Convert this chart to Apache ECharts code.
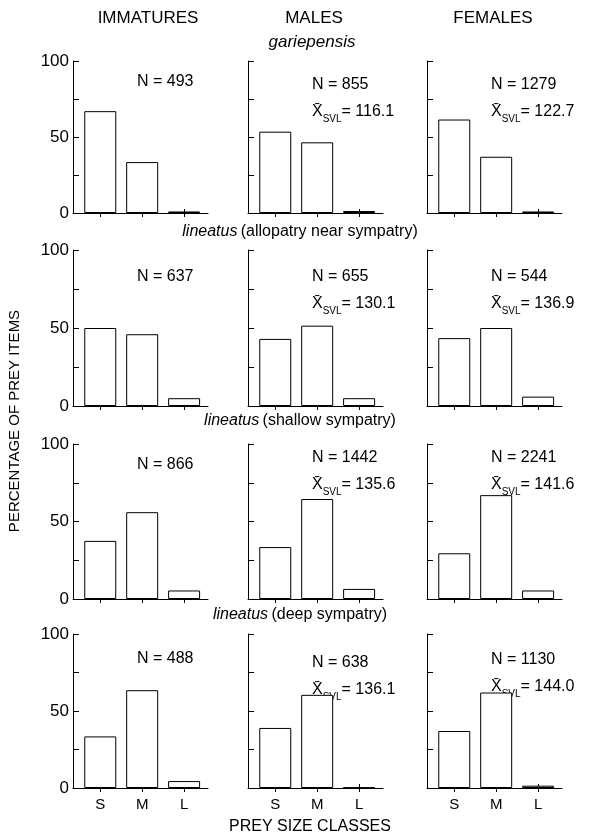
<!DOCTYPE html>
<html>
<head>
<meta charset="utf-8">
<script src="https://cdn.jsdelivr.net/npm/echarts@6/dist/echarts.min.js"></script>
<style>
  html, body { margin: 0; padding: 0; background: #fff; }
  #main { width: 593px; height: 836px; }
</style>
</head>
<body>
<div id="main"></div>
<script>
// prey size classes and column groups
var sizeClasses = ['S', 'M', 'L'];
var groups = ['IMMATURES', 'MALES', 'FEMALES'];
var populations = ['gariepensis', 'lineatus|(allopatry near sympatry)', 'lineatus|(shallow sympatry)', 'lineatus|(deep sympatry)'];
var yTicks = [0, 50, 100];

// percentage of prey items, one array per population, [immatures, males, females]
var gariepensis = [[67, 33.5, 1], [53.5, 46.5, 1.3], [61.5, 37, 1]];
var allopatry   = [[50, 46, 5], [43, 51.5, 5], [43.5, 50, 6]];
var shallow     = [[37.5, 56, 5.5], [33.5, 64.5, 6.5], [29.5, 67, 5.5]];
var deep        = [[33.5, 63.5, 4.5], [39, 60.5, 0.3], [37, 62, 1.5]];

// sample sizes and mean SVL (immatures have no SVL given)
var sampleN = [[493, 855, 1279], [637, 655, 544], [866, 1442, 2241], [488, 638, 1130]];
var meanSVL = [[null, '116.1', '122.7'], [null, '130.1', '136.9'], [null, '135.6', '141.6'], [null, '136.1', '144.0']];

var allData = [gariepensis, allopatry, shallow, deep];

// layout
var colLeft = [73, 248, 427];
var gridW = 135;
var rowTop = [61, 250, 444, 634];
var rowH = [152, 156, 155, 154];
var nY = [[83, 86, 86], [278, 278, 278], [466, 459, 459], [660, 664, 661]];
var FONT = "'Liberation Sans', Arial, sans-serif";

var grids = [], xAxes = [], yAxes = [], series = [], graphics = [];
var idx = 0;
for (var r = 0; r < 4; r++) {
  for (var c = 0; c < 3; c++) {
    grids.push({ left: colLeft[c], top: rowTop[r], width: gridW, height: rowH[r] });
    var lastRow = r === 3;
    // main x axis, ticks below the line
    xAxes.push({
      gridIndex: idx, type: 'value', min: -0.65, max: 2.57,
      axisLine: { show: true, onZero: false, lineStyle: { color: '#000', width: 1 } },
      axisTick: { show: true, customValues: [0, 1, 2], length: 4, lineStyle: { color: '#000' } },
      axisLabel: {
        show: lastRow, customValues: [0, 1, 2], margin: 9,
        color: '#000', fontSize: 15, fontFamily: FONT,
        formatter: function (v) { return sizeClasses[Math.round(v)]; }
      },
      splitLine: { show: false }
    });
    // second x axis, only the upper half of the ticks
    xAxes.push({
      gridIndex: idx, type: 'value', min: -0.65, max: 2.57, position: 'bottom',
      axisLine: { show: false, onZero: false },
      axisTick: { show: true, inside: true, customValues: [0, 1, 2], length: 4, lineStyle: { color: '#000' } },
      axisLabel: { show: false },
      splitLine: { show: false }
    });
    yAxes.push({
      gridIndex: idx, type: 'value', min: 0, max: 100, interval: 25,
      axisLine: { show: true, onZero: false, lineStyle: { color: '#000', width: 1 } },
      axisTick: { show: true, inside: true, length: 6, lineStyle: { color: '#000' } },
      axisLabel: {
        show: c === 0, margin: 4, color: '#000', fontSize: 17, fontFamily: FONT,
        formatter: function (v) { return yTicks.indexOf(v) >= 0 ? String(v) : ''; }
      },
      splitLine: { show: false }
    });
    var vals = allData[r][c];
    series.push({
      type: 'bar', xAxisIndex: idx * 2, yAxisIndex: idx, barWidth: 32,
      silent: true,
      itemStyle: { color: '#fff', borderColor: '#000', borderWidth: 1 },
      data: vals.map(function (v, i) { return [i, v]; })
    });

    // sample size / mean SVL text
    var tx = colLeft[c] + 64;
    var ty = nY[r][c];
    graphics.push({
      type: 'text', left: tx, top: ty - 9,
      style: { text: 'N = ' + sampleN[r][c], font: '16px ' + FONT, fill: '#000' }
    });
    if (meanSVL[r][c]) {
      graphics.push({
        type: 'text', left: tx, top: ty + 18,
        style: {
          text: '{x|X\u0304}{s|SVL}{v|= ' + meanSVL[r][c] + '}',
          rich: {
            x: { fontSize: 16, fontFamily: FONT, fill: '#000', verticalAlign: 'bottom', padding: [0, 0, 4, 0] },
            s: { fontSize: 10, fontFamily: FONT, fill: '#000', verticalAlign: 'bottom' },
            v: { fontSize: 16, fontFamily: FONT, fill: '#000', verticalAlign: 'bottom', padding: [0, 0, 4, 0] }
          }
        }
      });
    }
    idx++;
  }
}

// column headers
var headX = [148, 314, 493];
groups.forEach(function (g, i) {
  graphics.push({
    type: 'text', x: headX[i], y: 18,
    style: { text: g, font: '17px ' + FONT, fill: '#000', align: 'center', verticalAlign: 'middle' }
  });
});

// population labels
var popY = [42, 232, 421, 615];
var popX = [312, 300, 300, 300];
populations.forEach(function (p, i) {
  var parts = p.split('|');
  var txt = parts.length > 1 ? '{i|' + parts[0] + '} {n|' + parts[1] + '}' : '{i|' + parts[0] + '}';
  graphics.push({
    type: 'text', x: popX[i], y: popY[i],
    style: {
      text: txt, align: 'center', verticalAlign: 'middle',
      rich: {
        i: { fontSize: i === 0 ? 17 : 16, fontStyle: 'italic', fontFamily: FONT, fill: '#000' },
        n: { fontSize: 16, fontFamily: FONT, fill: '#000' }
      }
    }
  });
});

// axis titles
graphics.push({
  type: 'text', x: 15, y: 421, rotation: Math.PI / 2,
  style: { text: 'PERCENTAGE OF PREY ITEMS', font: '15px ' + FONT, fill: '#000', align: 'center', verticalAlign: 'middle' }
});
graphics.push({
  type: 'text', x: 310, y: 827,
  style: { text: 'PREY SIZE CLASSES', font: '16px ' + FONT, fill: '#000', align: 'center', verticalAlign: 'middle' }
});

var myChart = echarts.init(document.getElementById('main'));
myChart.setOption({
  animation: false,
  backgroundColor: '#fff',
  grid: grids,
  xAxis: xAxes,
  yAxis: yAxes,
  series: series,
  graphic: graphics
});
</script>
</body>
</html>
